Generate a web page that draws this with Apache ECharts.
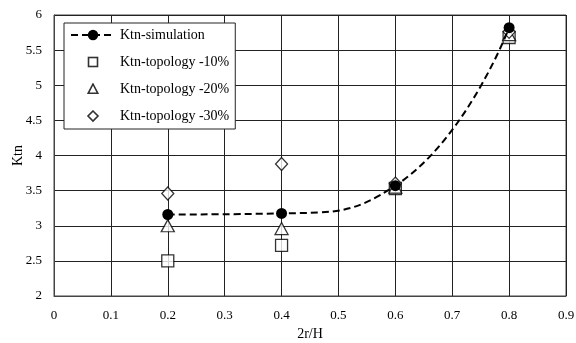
<!DOCTYPE html>
<html><head><meta charset="utf-8">
<script src="https://cdn.jsdelivr.net/npm/echarts@6/dist/echarts.min.js"></script>
<style>html,body{margin:0;padding:0;background:#fff}#c{width:576px;height:343px}</style>
</head><body><div id="c"></div>
<script>
const xs = [0.2, 0.4, 0.6, 0.8];
const simulation = [3.16, 3.175, 3.57, 5.82];
const topo10 = [2.5, 2.72, 3.53, 5.68];
const topo20 = [3.0, 2.96, 3.55, 5.72];
const topo30 = [3.46, 3.88, 3.6, 5.76];
const names = ['Ktn-simulation', 'Ktn-topology -10%', 'Ktn-topology -20%', 'Ktn-topology -30%'];
const pairs = v => xs.map((x, i) => [x, v[i]]);
const font = '"Liberation Serif", "DejaVu Serif", serif';

function iconSvg(shape) {
  let inner = '';
  if (shape === 'rect') inner = '<rect x="17.5" y="2" width="9" height="9" fill="#fff" stroke="#000" stroke-width="1.6"/>';
  if (shape === 'triangle') inner = '<polygon points="22,1.5 26.8,10.8 17.2,10.8" fill="#fff" stroke="#000" stroke-width="1.6"/>';
  if (shape === 'diamond') inner = '<polygon points="22,1.5 27,6.5 22,11.5 17,6.5" fill="#fff" stroke="#000" stroke-width="1.6"/>';
  const svg = '<svg xmlns="http://www.w3.org/2000/svg" width="44" height="13" viewBox="0 0 44 13">' + inner + '</svg>';
  return 'image://data:image/svg+xml;charset=utf-8,' + encodeURIComponent(svg);
}

const chart = echarts.init(document.getElementById('c'));
const hollow = {color: '#fff', borderColor: '#000', borderWidth: 1.3};
chart.setOption({
  animation: false,
  grid: {left: 54, right: 10, top: 15, bottom: 47, show: true, borderColor: '#444', borderWidth: 1, outerBoundsMode: 'none', containLabel: false},
  xAxis: {
    type: 'value', min: 0, max: 0.9, interval: 0.1,
    name: '2r/H', nameLocation: 'middle', nameGap: 31, nameMoveOverlap: false,
    nameTextStyle: {fontFamily: font, fontSize: 14, color: '#000'},
    axisLine: {show: true, lineStyle: {color: '#444'}},
    axisTick: {show: false},
    axisLabel: {fontFamily: font, fontSize: 13, color: '#000', margin: 13},
    splitLine: {show: true, lineStyle: {color: '#222', width: 1}}
  },
  yAxis: {
    type: 'value', min: 2, max: 6, interval: 0.5,
    name: 'Ktn', nameLocation: 'middle', nameGap: 29, nameRotate: 90, nameMoveOverlap: false,
    nameTextStyle: {fontFamily: font, fontSize: 14, color: '#000'},
    axisLine: {show: true, lineStyle: {color: '#444'}},
    axisTick: {show: false},
    axisLabel: {fontFamily: font, fontSize: 13, color: '#000', margin: 12},
    splitLine: {show: true, lineStyle: {color: '#222', width: 1}}
  },
  legend: {
    orient: 'vertical', left: 64, top: 23,
    backgroundColor: '#fff', borderColor: '#222', borderWidth: 1,
    padding: [5, 6, 6, 6], itemGap: 13, itemWidth: 44, itemHeight: 13,
    textStyle: {fontFamily: font, fontSize: 14, color: '#000'},
    data: [
      {name: names[0]},
      {name: names[1], icon: iconSvg('rect')},
      {name: names[2], icon: iconSvg('triangle')},
      {name: names[3], icon: iconSvg('diamond')}
    ]
  },
  series: [
    {name: names[0], type: 'line', data: pairs(simulation), smooth: 0.5,
     symbol: 'circle', symbolSize: 11, lineStyle: {color: '#000', width: 2, type: [7, 4]},
     itemStyle: {color: '#000'}, z: 5},
    {name: names[1], type: 'scatter', data: pairs(topo10), symbol: 'rect', symbolSize: 12, itemStyle: hollow},
    {name: names[2], type: 'scatter', data: pairs(topo20), symbol: 'triangle', symbolSize: [13, 12], itemStyle: hollow},
    {name: names[3], type: 'scatter', data: pairs(topo30), symbol: 'diamond', symbolSize: [12, 13], itemStyle: hollow}
  ]
});
</script></body></html>
